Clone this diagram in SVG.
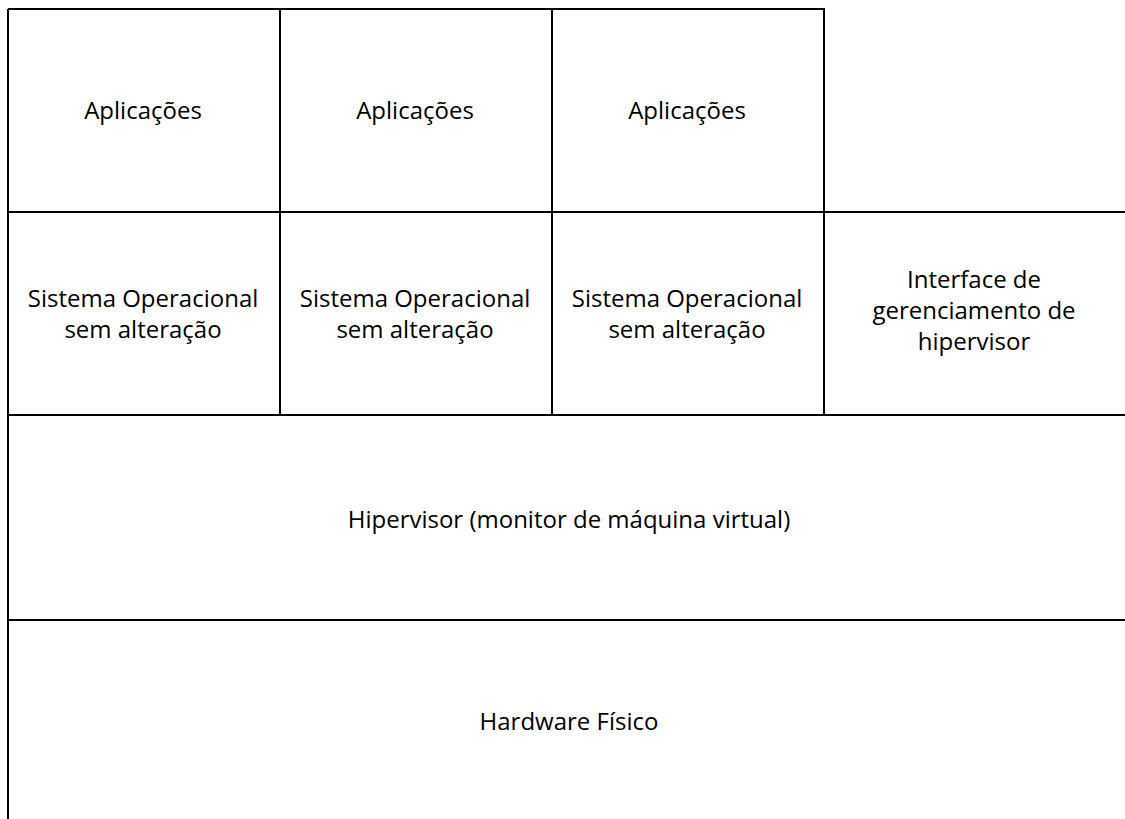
<svg xmlns="http://www.w3.org/2000/svg" width="1125" height="819" viewBox="0 0 1125 819">
<style>
.ln{stroke:#000;stroke-width:2;fill:none}
.t{font-family:"Open Sans","Liberation Sans",sans-serif;font-size:24px;fill:#000;text-anchor:middle}
</style>
<rect width="1125" height="819" fill="#fff"/>
<g id="connectors">
<path class="ln" d="M8,9 H824 V415"/>
<path class="ln" d="M8,9 V819"/>
<path class="ln" d="M280,9 V415"/>
<path class="ln" d="M552,9 V415"/>
<path class="ln" d="M8,212 H1125"/>
<path class="ln" d="M8,415 H1125"/>
<path class="ln" d="M8,620 H1125"/>
</g>
<g id="app1"><text class="t" x="143" y="119">Aplicações</text></g>
<g id="app2"><text class="t" x="415" y="119">Aplicações</text></g>
<g id="app3"><text class="t" x="687" y="119">Aplicações</text></g>
<g id="os1"><text class="t" x="143" y="307">Sistema Operacional</text><text class="t" x="143" y="338">sem alteração</text></g>
<g id="os2"><text class="t" x="415" y="307">Sistema Operacional</text><text class="t" x="415" y="338">sem alteração</text></g>
<g id="os3"><text class="t" x="687" y="307">Sistema Operacional</text><text class="t" x="687" y="338">sem alteração</text></g>
<g id="mgmt"><text class="t" x="974" y="288">Interface de</text><text class="t" x="974" y="319">gerenciamento de</text><text class="t" x="974" y="350">hipervisor</text></g>
<g id="hypervisor"><text class="t" x="569" y="528">Hipervisor (monitor de máquina virtual)</text></g>
<g id="hardware"><text class="t" x="569" y="730">Hardware Físico</text></g>
</svg>
